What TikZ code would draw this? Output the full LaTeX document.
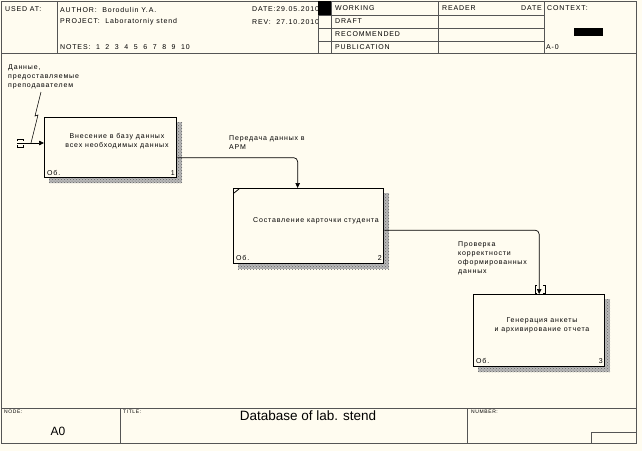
\documentclass[tikz,border=0pt]{standalone}
\usepackage{fontspec}
\setmainfont{Liberation Sans}
\newfontfamily\smallsans[LetterSpace=12]{Liberation Sans}
\usepackage{tikz}
\usetikzlibrary{patterns}
\usetikzlibrary{calc}
\usetikzlibrary{arrows.meta}

\definecolor{paper}{RGB}{255,252,240}
\definecolor{rule}{RGB}{85,85,85}

\tikzset{
  lbl/.style={font=\smallsans\fontsize{7}{9}\selectfont, inner sep=0pt, anchor=west, align=left},
  func/.style={draw=black, line width=1.3pt, fill=paper, anchor=north west, inner sep=0pt},
  hatch/.style={fill=black!28, postaction={pattern=crosshatch dots, pattern color=black!60}},
  arr/.style={line width=0.7pt, -{Triangle[length=5pt, width=4.5pt]}, rounded corners=4pt},
}

\begin{document}
\begin{tikzpicture}[x=1pt, y=-1pt]
\useasboundingbox (0,0) rectangle (642,451);
\fill[paper] (0,0) rectangle (642,451);

\draw[rule, line width=0.8pt] (1,1) rectangle (636,443);
\draw[rule, line width=0.8pt] (1,53) -- (636,53);
\draw[rule, line width=0.8pt] (57,1) -- (57,53);
\draw[rule, line width=0.8pt] (318,1) -- (318,53);
\draw[rule, line width=0.8pt] (331,1) -- (331,53);
\draw[rule, line width=0.8pt] (438,1) -- (438,53);
\draw[rule, line width=0.8pt] (544,1) -- (544,53);
\draw[rule, line width=0.8pt] (318,15) -- (544,15);
\draw[rule, line width=0.8pt] (318,28) -- (544,28);
\draw[rule, line width=0.8pt] (318,41) -- (544,41);
\fill[black] (318,1) rectangle (331,15);
\fill[black] (574,28) rectangle (603,36);

\node[lbl] (usedat) at (5,9) {USED AT:};
\node[lbl] (author) at (60,10) {AUTHOR:\ \ Borodulin Y.A.};
\node[lbl] (project) at (60,22) {PROJECT:\ \ Laboratorniy stend};
\node[lbl] (notes) at (60,47) {NOTES:\ \ 1\ \ 2\ \ 3\ \ 4\ \ 5\ \ 6\ \ 7\ \ 8\ \ 9\ \ 10};
\begin{scope}
\clip (57,1) rectangle (317.5,53);
\node[lbl] (date) at (252,9) {DATE:29.05.2010};
\node[lbl] (rev) at (252,22) {REV:\ \ 27.10.2010};
\end{scope}
\node[lbl] (working) at (335,8) {WORKING};
\node[lbl] (draft) at (335,21) {DRAFT};
\node[lbl] (recom) at (335,34) {RECOMMENDED};
\node[lbl] (public) at (335,47) {PUBLICATION};
\node[lbl] (reader) at (442,8) {READER};
\node[lbl, anchor=east] (rdate) at (542,8) {DATE};
\node[lbl] (context) at (547,8) {CONTEXT:};
\node[lbl] (aminus) at (546,47) {A-0};

\draw[rule, line width=0.8pt] (1,408) -- (636,408);
\draw[rule, line width=0.8pt] (120,408) -- (120,443);
\draw[rule, line width=0.8pt] (467,408) -- (467,443);
\draw[rule, line width=0.8pt] (591,443) -- (591,432) -- (636,432);
\node[lbl, font=\smallsans\fontsize{5}{6}\selectfont] (nodelbl) at (4,412) {NODE:};
\node[lbl, font=\fontsize{12}{14}\selectfont, anchor=center] (nodeno) at (58,431) {A0};
\node[lbl, font=\smallsans\fontsize{5}{6}\selectfont] (titlelbl) at (123,412) {TITLE:};
\node[lbl, font=\fontsize{13.5}{16}\selectfont, anchor=center] (title) at (308,416) {Database of lab. stend};
\node[lbl, font=\smallsans\fontsize{5}{6}\selectfont] (numlbl) at (471,412) {NUMBER:};

\fill[hatch] (49,122) rectangle (182,183);
\fill[hatch] (238,193) rectangle (389,269);
\fill[hatch] (478,299) rectangle (610,372);
\node[func, minimum width=132pt, minimum height=60pt] (f1) at (44,117) {};
\node[func, minimum width=150pt, minimum height=75pt] (f2) at (233,188) {};
\node[func, minimum width=131pt, minimum height=72pt] (f3) at (473,294) {};
\draw[line width=0.8pt] (234,193) -- (239,189);

\node[lbl, align=center, anchor=center] (f1txt) at (117,141) {Внесение в базу данных\\всех необходимых данных};
\node[lbl, anchor=center] (f2txt) at (316,221) {Составление карточки студента};
\node[lbl, align=center, anchor=center] (f3txt) at (542,325) {Генерация анкеты\\и архивирование отчета};
\node[lbl] (f1ob) at (47,173) {Об.};
\node[lbl, anchor=east] (f1no) at (175,173) {1};
\node[lbl] (f2ob) at (236,258) {Об.};
\node[lbl, anchor=east] (f2no) at (382,258) {2};
\node[lbl] (f3ob) at (476,361) {Об.};
\node[lbl, anchor=east] (f3no) at (603,361) {3};

\coordinate (t1) at (17,143);
\draw[arr] (t1) -- (t1 -| f1.west);
\draw[line width=0.6pt] (17,141) -- (17,139) -- (23,139) -- (23,141);
\draw[line width=0.6pt] (17,145) -- (17,147) -- (23,147) -- (23,145);
\node[lbl] (in1txt) at (8,77) {Данные,\\предоставляемые\\преподавателем};
\draw[line width=0.6pt] (41,92) -- (35,116) -- (38,115) -- (31,143);

\draw[arr] ($(f1.east)+(0,10)$) -| ($(f2.north)+(-11,0)$);
\node[lbl] (a12txt) at (229,143) {Передача данных в\\АРМ};

\draw[arr] ($(f2.east)+(0,4)$) -| (f3.north);
\draw[line width=0.6pt] (537,285) -- (535,285) -- (535,293) -- (537,293);
\draw[line width=0.6pt] (543,285) -- (545,285) -- (545,293) -- (543,293);
\node[lbl] (a23txt) at (458,258) {Проверка\\корректности\\оформированных\\данных};
\end{tikzpicture}
\end{document}
